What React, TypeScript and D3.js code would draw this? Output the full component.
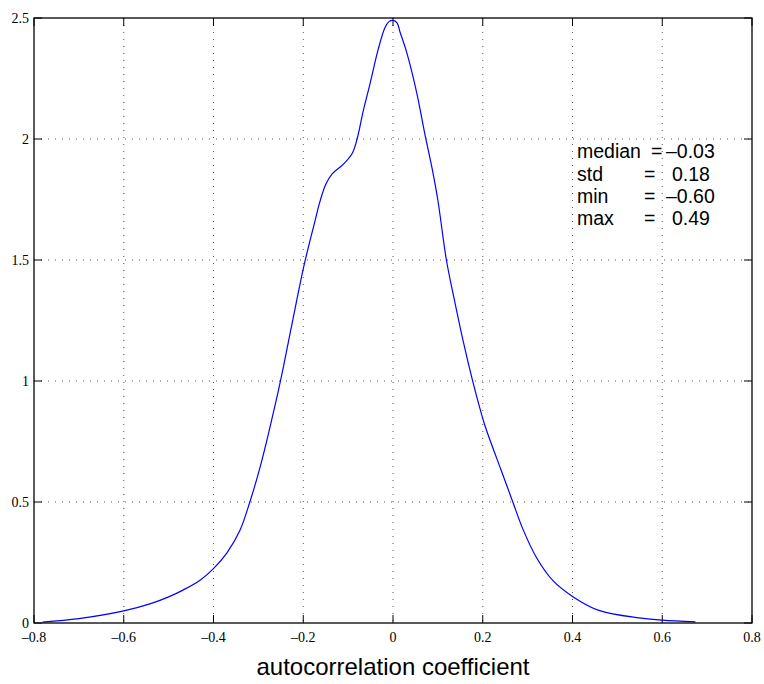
import React from "react";
import * as d3 from "d3";

const xs = [-0.781, -0.7, -0.6, -0.54, -0.5, -0.467, -0.43, -0.4, -0.37, -0.341, -0.319, -0.296, -0.274, -0.256, -0.244, -0.223, -0.198, -0.174, -0.163, -0.15, -0.136, -0.111, -0.091, -0.08, -0.067, -0.051, -0.033, -0.018, -0.009, 0.0, 0.009, 0.016, 0.031, 0.053, 0.071, 0.087, 0.1, 0.119, 0.137, 0.156, 0.178, 0.19, 0.205, 0.241, 0.267, 0.289, 0.319, 0.356, 0.4, 0.459, 0.548, 0.6, 0.674];
const ys = [0.004, 0.018, 0.05, 0.08, 0.108, 0.137, 0.177, 0.225, 0.29, 0.383, 0.5, 0.645, 0.81, 0.955, 1.06, 1.255, 1.48, 1.66, 1.74, 1.812, 1.855, 1.895, 1.94, 2.0, 2.11, 2.23, 2.37, 2.46, 2.485, 2.49, 2.48, 2.44, 2.355, 2.19, 2.02, 1.88, 1.747, 1.5, 1.333, 1.168, 0.996, 0.912, 0.815, 0.631, 0.5, 0.39, 0.273, 0.176, 0.11, 0.052, 0.021, 0.012, 0.005];

const xTicks = [-0.8, -0.6, -0.4, -0.2, 0, 0.2, 0.4, 0.6, 0.8];
const yTicks = [0, 0.5, 1, 1.5, 2, 2.5];
const xTickLabels = ["\u20130.8", "\u20130.6", "\u20130.4", "\u20130.2", "0", "0.2", "0.4", "0.6", "0.8"];
const yTickLabels = ["0", "0.5", "1", "1.5", "2", "2.5"];

const statNames = ["median", "std", "min", "max"];
const statValues = ["\u20130.03", "0.18", "\u20130.60", "0.49"];

const xLabel = "autocorrelation coefficient";

export default function App() {
  const left = 34, right = 752, top = 18, bottom = 623;
  const x = d3.scaleLinear().domain([-0.8, 0.8]).range([left, right]);
  const y = d3.scaleLinear().domain([0, 2.5]).range([bottom, top]);
  const pts: [number, number][] = xs.map((v, i) => [v, ys[i]]);
  const line = d3
    .line<[number, number]>()
    .x((d) => x(d[0]))
    .y((d) => y(d[1]))
    .curve(d3.curveCatmullRom.alpha(0.5));

  const serif = "'Liberation Serif', 'Times New Roman', serif";
  const sans = "'Liberation Sans', Arial, Helvetica, sans-serif";

  return (
    <svg width={764} height={684} style={{ position: "absolute", left: 0, top: 0 }}>
      <rect x={0} y={0} width={764} height={684} fill="#fff" />
      {xTicks.slice(1, -1).map((t) => (
        <line key={"gx" + t} x1={x(t)} x2={x(t)} y1={top} y2={bottom} stroke="#555" strokeWidth={1} strokeDasharray="1,6" />
      ))}
      {yTicks.slice(1, -1).map((t) => (
        <line key={"gy" + t} x1={left} x2={right} y1={y(t)} y2={y(t)} stroke="#555" strokeWidth={1} strokeDasharray="1,6" />
      ))}
      {xTicks.map((t) => (
        <g key={"tx" + t}>
          <line x1={x(t)} x2={x(t)} y1={bottom} y2={bottom - 8} stroke="#000" />
          <line x1={x(t)} x2={x(t)} y1={top} y2={top + 8} stroke="#000" />
        </g>
      ))}
      {yTicks.map((t) => (
        <g key={"ty" + t}>
          <line x1={left} x2={left + 8} y1={y(t)} y2={y(t)} stroke="#000" />
          <line x1={right} x2={right - 8} y1={y(t)} y2={y(t)} stroke="#000" />
        </g>
      ))}
      <path d={line(pts) || ""} fill="none" stroke="#0000ff" strokeWidth={1.2} />
      <rect x={left} y={top} width={right - left} height={bottom - top} fill="none" stroke="#000" strokeWidth={1.3} />
      {xTicks.map((t, i) => (
        <text key={"lx" + t} x={x(t)} y={642} textAnchor="middle" fontFamily={serif} fontSize={14}>
          {xTickLabels[i]}
        </text>
      ))}
      {yTicks.map((t, i) => (
        <text key={"ly" + t} x={29} y={y(t) + 5} textAnchor="end" fontFamily={serif} fontSize={14}>
          {yTickLabels[i]}
        </text>
      ))}
      <text x={x(0)} y={675} textAnchor="middle" fontFamily={sans} fontSize={24}>
        {xLabel}
      </text>
      {statNames.map((n, i) => {
        const yy = [158.3, 180.7, 203.2, 225.3][i];
        const neg = statValues[i].startsWith("\u2013");
        return (
          <g key={n} fontFamily={sans} fontSize={19.5}>
            <text x={577} y={yy}>{n}</text>
            <text x={i === 0 ? 651 : 644} y={yy}>=</text>
            <text x={neg ? 666 : 672} y={yy}>{statValues[i]}</text>
          </g>
        );
      })}
    </svg>
  );
}
